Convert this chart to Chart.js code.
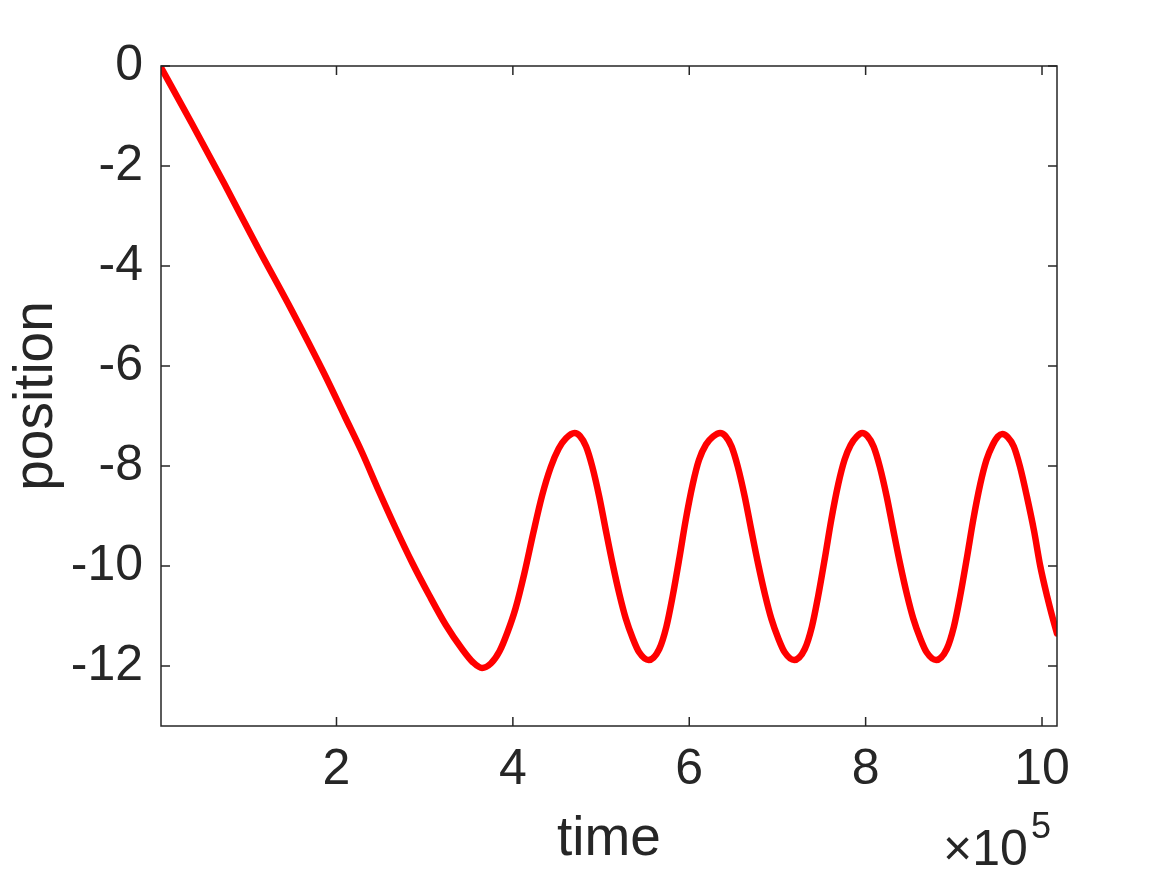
<!DOCTYPE html>
<html>
<head>
<meta charset="utf-8">
<title>position vs time</title>
<script src="https://cdn.jsdelivr.net/npm/chart.js@4.4.1/dist/chart.umd.min.js"></script>
<style>
  html, body { margin: 0; padding: 0; background: #ffffff; }
  #wrap { width: 1167px; height: 875px; }
</style>
</head>
<body>
<div id="wrap"><canvas id="posChart" width="1167" height="875"></canvas></div>
<script>
// time is in units of 1e5 (axis shows the x10^5 multiplier)
const time = [
  0.01, 0.36, 0.73, 1.11, 1.49, 1.86, 2.10, 2.29, 2.48, 2.67,
  2.86, 3.05, 3.24, 3.42, 3.55, 3.65, 3.75, 3.85, 3.94, 4.03,
  4.13, 4.23, 4.33, 4.43, 4.52, 4.60, 4.70, 4.76, 4.83, 4.90,
  4.98, 5.05, 5.13, 5.21, 5.28, 5.36, 5.43, 5.54, 5.66, 5.74,
  5.81, 5.89, 5.96, 6.04, 6.11, 6.19, 6.27, 6.35, 6.41, 6.48,
  6.55, 6.63, 6.70, 6.78, 6.86, 6.93, 7.01, 7.08, 7.19, 7.31,
  7.39, 7.46, 7.54, 7.61, 7.69, 7.76, 7.83, 7.90, 7.96, 8.02,
  8.09, 8.16, 8.24, 8.31, 8.39, 8.47, 8.54, 8.62, 8.69, 8.80,
  8.92, 9.00, 9.07, 9.15, 9.22, 9.30, 9.37, 9.44, 9.50, 9.55,
  9.61, 9.68, 9.75, 9.83, 9.91, 9.98, 10.06, 10.13, 10.17
];
const position = [
  -0.03, -1.15, -2.36, -3.64, -4.88, -6.15, -7.03, -7.73, -8.50, -9.24,
  -9.94, -10.58, -11.18, -11.65, -11.93, -12.04, -11.95, -11.70, -11.32, -10.85,
  -10.15, -9.35, -8.60, -8.02, -7.65, -7.45, -7.34, -7.40, -7.61, -8.01,
  -8.62, -9.25, -9.95, -10.58, -11.05, -11.45, -11.72, -11.88, -11.66, -11.22,
  -10.62, -9.82, -9.08, -8.36, -7.88, -7.57, -7.41, -7.34, -7.40, -7.61,
  -8.01, -8.62, -9.25, -9.95, -10.58, -11.05, -11.45, -11.72, -11.88, -11.66,
  -11.22, -10.62, -9.82, -9.08, -8.36, -7.88, -7.58, -7.41, -7.34, -7.40,
  -7.61, -8.01, -8.62, -9.25, -9.95, -10.58, -11.05, -11.45, -11.72, -11.88,
  -11.66, -11.22, -10.62, -9.82, -9.08, -8.36, -7.88, -7.58, -7.41, -7.36,
  -7.42, -7.61, -8.01, -8.62, -9.30, -10.00, -10.62, -11.10, -11.35
];
const xTicks = [2, 4, 6, 8, 10];
const yTicks = [0, -2, -4, -6, -8, -10, -12];
const xRange = [0.01, 10.17];
const yRange = [-13.2, 0];

const INK = '#262626';
const FONT = "'Liberation Sans', Arial, Helvetica, sans-serif";

// MATLAB style box with inward ticks and the axis labels
const matlabAxes = {
  id: 'matlabAxes',
  afterDraw(chart) {
    const { ctx, chartArea: a, scales } = chart;
    const len = 9;
    ctx.save();
    ctx.strokeStyle = INK;
    ctx.lineWidth = 1.5;
    ctx.strokeRect(a.left, a.top, a.right - a.left, a.bottom - a.top);

    ctx.beginPath();
    scales.x.ticks.forEach(t => {
      const px = scales.x.getPixelForValue(t.value);
      ctx.moveTo(px, a.bottom); ctx.lineTo(px, a.bottom - len);
      ctx.moveTo(px, a.top); ctx.lineTo(px, a.top + len);
    });
    scales.y.ticks.forEach(t => {
      const py = scales.y.getPixelForValue(t.value);
      ctx.moveTo(a.left, py); ctx.lineTo(a.left + len, py);
      ctx.moveTo(a.right, py); ctx.lineTo(a.right - len, py);
    });
    ctx.stroke();

    ctx.fillStyle = INK;
    ctx.textBaseline = 'alphabetic';

    // x label
    ctx.font = '55px ' + FONT;
    ctx.textAlign = 'center';
    ctx.fillText('time', (a.left + a.right) / 2, 855);

    // y label
    ctx.save();
    ctx.translate(52, (a.top + a.bottom) / 2);
    ctx.rotate(-Math.PI / 2);
    ctx.fillText('position', 0, 0);
    ctx.restore();

    // exponent marker
    ctx.textAlign = 'left';
    ctx.font = '50px ' + FONT;
    ctx.fillText('\u00d710', 943, 865);
    ctx.font = '36px ' + FONT;
    ctx.fillText('5', 1031, 838);
    ctx.restore();
  }
};

new Chart(document.getElementById('posChart'), {
  type: 'line',
  data: {
    datasets: [{
      label: 'position',
      data: time.map((t, i) => ({ x: t, y: position[i] })),
      borderColor: '#ff0000',
      borderWidth: 6.5,
      pointRadius: 0,
      fill: false,
      cubicInterpolationMode: 'monotone',
      borderJoinStyle: 'round',
      borderCapStyle: 'round'
    }]
  },
  options: {
    responsive: false,
    animation: false,
    devicePixelRatio: 1,
    layout: { padding: { top: 66, right: 110, left: 0, bottom: 0 } },
    plugins: {
      legend: { display: false },
      tooltip: { enabled: false }
    },
    scales: {
      x: {
        type: 'linear',
        min: xRange[0],
        max: xRange[1],
        grid: { display: false, drawTicks: false },
        border: { display: false },
        afterBuildTicks: s => { s.ticks = xTicks.map(v => ({ value: v })); },
        afterFit: s => { s.height = 149; },
        ticks: {
          color: INK,
          font: { family: FONT, size: 50 },
          padding: 14,
          maxRotation: 0,
          autoSkip: false,
          callback: v => String(v)
        }
      },
      y: {
        type: 'linear',
        min: yRange[0],
        max: yRange[1],
        grid: { display: false, drawTicks: false },
        border: { display: false },
        afterBuildTicks: s => { s.ticks = yTicks.map(v => ({ value: v })); },
        afterFit: s => { s.width = 161; },
        ticks: {
          color: INK,
          font: { family: FONT, size: 50 },
          padding: 18,
          autoSkip: false,
          callback: v => String(v)
        }
      }
    }
  },
  plugins: [matlabAxes]
});
</script>
</body>
</html>
